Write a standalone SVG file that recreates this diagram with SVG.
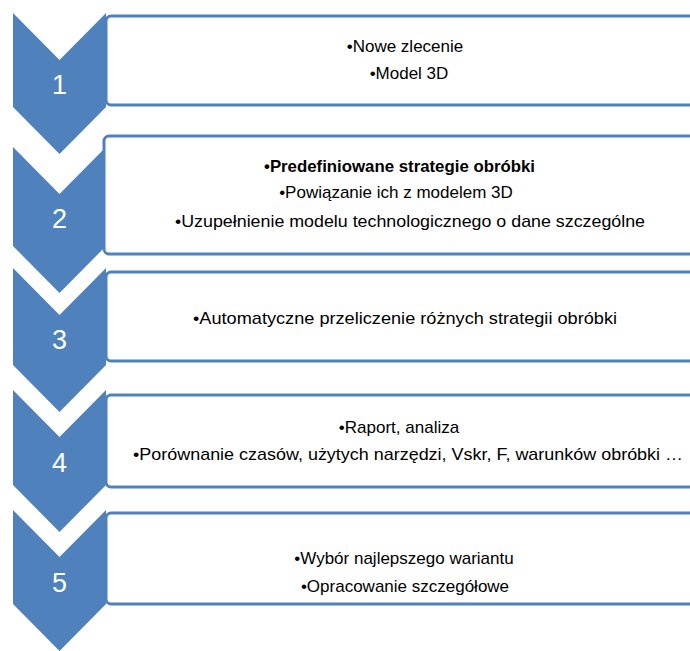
<svg xmlns="http://www.w3.org/2000/svg" width="690" height="651" viewBox="0 0 690 651">
<style>
.chev{fill:#4F81BD;}
.box{fill:#FFFFFF;stroke:#4F81BD;stroke-width:3;}
.num{font-family:"Liberation Sans",Arial,sans-serif;font-size:27px;fill:#FFFFFF;text-anchor:middle;}
.t{font-family:"Liberation Sans",Arial,sans-serif;font-size:17px;fill:#000000;text-anchor:middle;}
.b{font-weight:bold;}
</style>
<rect width="690" height="651" fill="#FFFFFF"/>
<g id="step1">
<polygon class="chev" points="13,13 59.5,60 106,13 106,107 59.5,154 13,107"/>
<text class="num" x="59.5" y="94">1</text>
<rect class="box" x="106" y="16" width="590" height="89" rx="5"/>
<text class="t" x="405" y="52">•Nowe zlecenie</text>
<text class="t" x="409" y="79">•Model 3D</text>
</g>
<g id="step2">
<polygon class="chev" points="13,147 59.5,194 106,147 106,246 59.5,293 13,246"/>
<text class="num" x="59.5" y="228">2</text>
<rect class="box" x="104" y="136" width="592" height="118" rx="5"/>
<text class="t b" x="399.5" y="172" textLength="271" lengthAdjust="spacingAndGlyphs">•Predefiniowane strategie obróbki</text>
<text class="t" x="396" y="198">•Powiązanie ich z modelem 3D</text>
<text class="t" x="410" y="227" textLength="470" lengthAdjust="spacingAndGlyphs">•Uzupełnienie modelu technologicznego o dane szczególne</text>
</g>
<g id="step3">
<polygon class="chev" points="13,268 59.5,315 106,268 106,365 59.5,412 13,365"/>
<text class="num" x="59.5" y="349">3</text>
<rect class="box" x="106" y="272" width="590" height="89" rx="5"/>
<text class="t" x="405" y="324" textLength="424" lengthAdjust="spacingAndGlyphs">•Automatyczne przeliczenie różnych strategii obróbki</text>
</g>
<g id="step4">
<polygon class="chev" points="13,390 59.5,437 106,390 106,485 59.5,532 13,485"/>
<text class="num" x="59.5" y="472">4</text>
<rect class="box" x="106" y="395" width="590" height="92" rx="5"/>
<text class="t" x="399" y="433">•Raport, analiza</text>
<text class="t" x="408" y="460" textLength="550" lengthAdjust="spacingAndGlyphs">•Porównanie czasów, użytych narzędzi, Vskr, F, warunków obróbki …</text>
</g>
<g id="step5">
<polygon class="chev" points="13,510 59.5,557 106,510 106,604 59.5,651 13,604"/>
<text class="num" x="59.5" y="592">5</text>
<rect class="box" x="106" y="513" width="590" height="91" rx="5"/>
<text class="t" x="404" y="564">•Wybór najlepszego wariantu</text>
<text class="t" x="405" y="592">•Opracowanie szczegółowe</text>
</g>
<g id="connectors"></g>
</svg>
